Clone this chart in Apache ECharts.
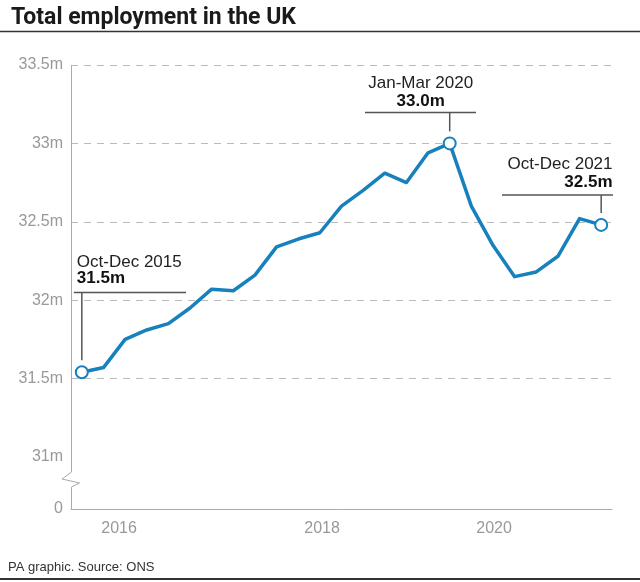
<!DOCTYPE html>
<html>
<head>
<meta charset="utf-8">
<script src="https://cdn.jsdelivr.net/npm/echarts@6/dist/echarts.min.js"></script>
<style>
html,body{margin:0;padding:0;background:#fff;}
#main{width:640px;height:582px;}
</style>
</head>
<body>
<div id="main"></div>
<script>
// Quarterly periods (rolling 3-month), Oct-Dec 2015 to Oct-Dec 2021
const quarters = [
  'Oct-Dec 2015',
  'Jan-Mar 2016','Apr-Jun 2016','Jul-Sep 2016','Oct-Dec 2016',
  'Jan-Mar 2017','Apr-Jun 2017','Jul-Sep 2017','Oct-Dec 2017',
  'Jan-Mar 2018','Apr-Jun 2018','Jul-Sep 2018','Oct-Dec 2018',
  'Jan-Mar 2019','Apr-Jun 2019','Jul-Sep 2019','Oct-Dec 2019',
  'Jan-Mar 2020','Apr-Jun 2020','Jul-Sep 2020','Oct-Dec 2020',
  'Jan-Mar 2021','Apr-Jun 2021','Jul-Sep 2021','Oct-Dec 2021'
];
// Total employment, millions
const employment = [
  31.54,
  31.57, 31.75, 31.81, 31.85,
  31.95, 32.07, 32.06, 32.16,
  32.34, 32.39, 32.43, 32.60,
  32.70, 32.81, 32.75, 32.94,
  33.00, 32.60, 32.35, 32.15,
  32.18, 32.28, 32.52, 32.48
];
// x-axis year labels and their positions (in quarter index units)
const xTickPos = [1.72, 11.1, 19.05];
const xTickLabels = ['2016', '2018', '2020'];
// annotated points
const annotIdx = [0, 17, 24];
const annotValueText = ['31.5m', '33.0m', '32.5m'];

const BLUE = '#1681bd';
const chart = echarts.init(document.getElementById('main'), null, {renderer: 'canvas'});

const seriesData = employment.map((v, i) => {
  if (annotIdx.indexOf(i) >= 0) {
    return {value: [i, v], symbol: 'emptyCircle', symbolSize: 12,
      itemStyle: {color: BLUE, borderColor: BLUE, borderWidth: 4}};
  }
  return {value: [i, v]};
});

const option = {
  animation: false,
  backgroundColor: '#fff',
  title: {
    text: 'Total employment in the UK',
    left: 6, top: 2,
    textStyle: {fontFamily: 'Roboto', fontWeight: 'bold', fontSize: 23, color: '#1a1a1a'}
  },
  grid: {left: 71, right: 28, top: 65, bottom: 73},
  xAxis: {
    type: 'value', min: -0.5, max: 24.5,
    splitLine: {show: false},
    axisLine: {show: true, onZero: false, lineStyle: {color: '#aaaaaa', width: 1}},
    axisTick: {show: false},
    axisLabel: {
      customValues: xTickPos,
      formatter: function (v) {
        let best = 0, bd = 1e9;
        xTickPos.forEach((p, k) => { const d = Math.abs(p - v); if (d < bd) { bd = d; best = k; } });
        return xTickLabels[best];
      },
      color: '#999999', fontSize: 16, margin: 12, fontFamily: 'Liberation Sans'
    }
  },
  yAxis: {
    type: 'value', min: 0, max: 33.5, interval: 0.5,
    breaks: [{start: 0, end: 31, gap: 0.332}],
    breakArea: {show: false},
    axisLine: {show: true, onZero: false, lineStyle: {color: '#aaaaaa', width: 1}},
    axisTick: {show: false},
    splitLine: {show: true, lineStyle: {color: '#bbbbbb', width: 1, type: [7, 6]}},
    axisLabel: {
      formatter: function (v) { return v === 0 ? '0' : (v + 'm'); },
      color: '#999999', fontSize: 16, margin: 8, fontFamily: 'Liberation Sans'
    }
  },
  series: [{
    type: 'line',
    data: seriesData,
    symbol: 'none',
    showSymbol: true,
    lineStyle: {color: BLUE, width: 3.5, join: 'round'},
    itemStyle: {color: BLUE},
    z: 5
  }]
};
chart.setOption(option);

function buildGraphics() {
  const pts = annotIdx.map(i => chart.convertToPixel({seriesIndex: 0}, [i, employment[i]]));
  const ax = chart.convertToPixel({xAxisIndex: 0}, -0.5);
  const y31 = chart.convertToPixel({yAxisIndex: 0}, 31);
  const y0 = chart.convertToPixel({yAxisIndex: 0}, 0);
  const lineStyle = {stroke: '#555555', lineWidth: 1.5};
  const txtRegular = {fontSize: 17, fontFamily: 'Liberation Sans', fill: '#222222'};
  const txtBold = {fontSize: 17, fontFamily: 'Liberation Sans', fontWeight: 'bold', fill: '#111111'};
  const els = [];
  // Header and footer rules
  els.push({type: 'line', shape: {x1: 0, y1: 31.5, x2: 640, y2: 31.5}, style: {stroke: '#333', lineWidth: 1.5}, z: 10});
  els.push({type: 'line', shape: {x1: 0, y1: 579, x2: 640, y2: 579}, style: {stroke: '#333', lineWidth: 2}, z: 10});
  els.push({type: 'text', left: 8, top: 561, style: {text: 'PA graphic. Source: ONS', fontSize: 13, fontFamily: 'Liberation Sans', fill: '#333'}, z: 10});

  // Axis line through the break with zigzag
  const xa = Math.round(ax) + 0.5;
  els.push({type: 'rect', shape: {x: xa - 5, y: y31 + 1, width: 10, height: y0 - y31 - 2}, style: {fill: '#fff'}, z: 10});
  els.push({type: 'polyline', shape: {points: [[xa, y31], [xa, 472], [62, 479], [79.5, 483], [xa, 487], [xa, y0]]},
    style: {stroke: '#aaaaaa', lineWidth: 1, fill: null}, z: 11});

  // Annotation 1: Oct-Dec 2015 (left aligned)
  const p0 = pts[0];
  els.push({type: 'line', shape: {x1: p0[0] - 8, y1: 292.5, x2: 186, y2: 292.5}, style: lineStyle, z: 10});
  els.push({type: 'line', shape: {x1: p0[0], y1: 292.5, x2: p0[0], y2: p0[1] - 12}, style: lineStyle, z: 10});
  els.push({type: 'text', x: p0[0] - 5, y: 262, style: Object.assign({text: quarters[annotIdx[0]], textAlign: 'left', textVerticalAlign: 'middle'}, txtRegular), z: 10});
  els.push({type: 'text', x: p0[0] - 5, y: 278, style: Object.assign({text: annotValueText[0], textAlign: 'left', textVerticalAlign: 'middle'}, txtBold), z: 10});

  // Annotation 2: Jan-Mar 2020 (centered)
  const p1 = pts[1];
  const cx = p1[0] - 29;
  els.push({type: 'line', shape: {x1: 365, y1: 112.5, x2: 476, y2: 112.5}, style: lineStyle, z: 10});
  els.push({type: 'line', shape: {x1: p1[0], y1: 112.5, x2: p1[0], y2: p1[1] - 12}, style: lineStyle, z: 10});
  els.push({type: 'text', x: cx, y: 83, style: Object.assign({text: quarters[annotIdx[1]], textAlign: 'center', textVerticalAlign: 'middle'}, txtRegular), z: 10});
  els.push({type: 'text', x: cx, y: 101, style: Object.assign({text: annotValueText[1], textAlign: 'center', textVerticalAlign: 'middle'}, txtBold), z: 10});

  // Annotation 3: Oct-Dec 2021 (right aligned)
  const p2 = pts[2];
  els.push({type: 'line', shape: {x1: 502, y1: 195, x2: 613, y2: 195}, style: lineStyle, z: 10});
  els.push({type: 'line', shape: {x1: p2[0], y1: 195, x2: p2[0], y2: p2[1] - 12}, style: lineStyle, z: 10});
  els.push({type: 'text', x: 612.5, y: 164.5, style: Object.assign({text: quarters[annotIdx[2]], textAlign: 'right', textVerticalAlign: 'middle'}, txtRegular), z: 10});
  els.push({type: 'text', x: 612.5, y: 182.5, style: Object.assign({text: annotValueText[2], textAlign: 'right', textVerticalAlign: 'middle'}, txtBold), z: 10});

  chart.setOption({graphic: els});
}
buildGraphics();
</script>
</body>
</html>
